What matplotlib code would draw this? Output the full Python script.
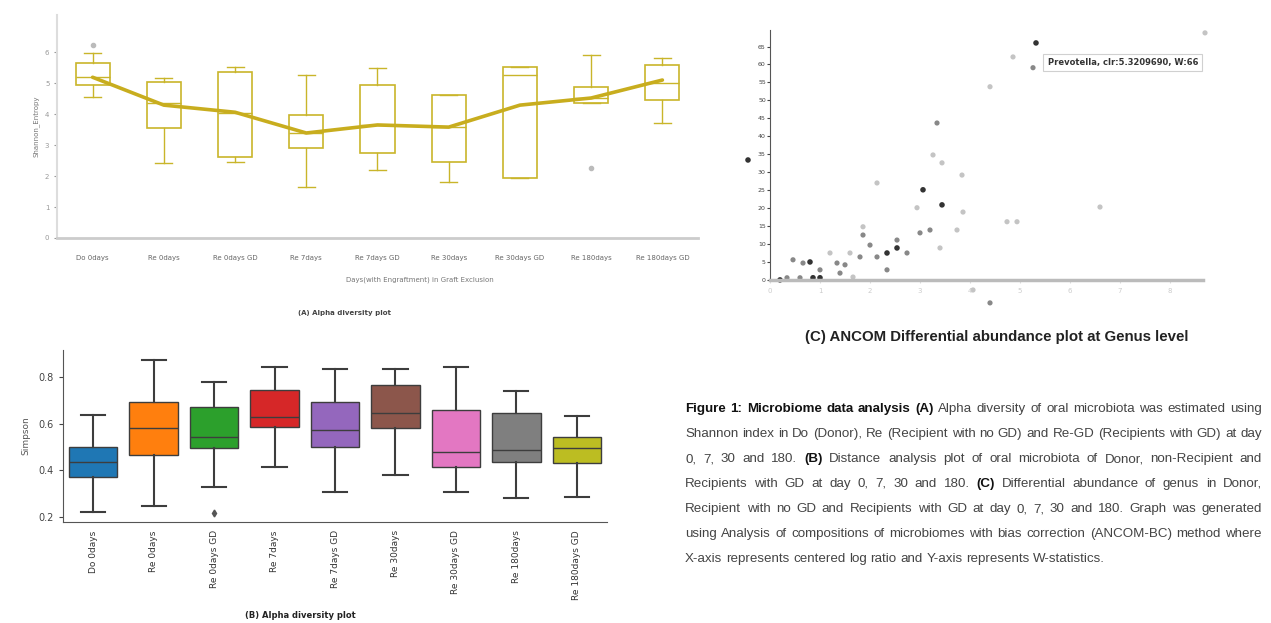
import numpy as np
import matplotlib
matplotlib.use('Agg')
import matplotlib.pyplot as plt

# (A) Shannon entropy per group
a_groups = ['Do 0days', 'Re 0days', 'Re 0days GD', 'Re 7days', 'Re 7days GD',
            'Re 30days', 'Re 30days GD', 'Re 180days', 'Re 180days GD']
a_whislo = [4.55, 2.42, 2.45, 1.65, 2.19, 1.81, 1.94, 4.35, 3.71]
a_q1 = [4.94, 3.55, 2.61, 2.90, 2.74, 2.45, 1.94, 4.35, 4.45]
a_med = [5.19, 4.35, 4.03, 3.39, 3.65, 3.58, 5.26, 4.52, 5.00]
a_q3 = [5.65, 5.03, 5.35, 3.97, 4.94, 4.61, 5.52, 4.87, 5.58]
a_whishi = [5.97, 5.16, 5.52, 5.26, 5.48, 4.61, 5.52, 5.90, 5.81]
a_fliers = [[6.23], [], [], [], [], [], [], [2.26], []]
a_mean = [5.19, 4.29, 4.06, 3.39, 3.65, 3.58, 4.29, 4.52, 5.10]

# (B) Simpson per group
b_groups = ['Do 0days', 'Re 0days', 'Re 0days GD', 'Re 7days', 'Re 7days GD',
            'Re 30days', 'Re 30days GD', 'Re 180days', 'Re 180days GD']
b_whislo = [0.221, 0.247, 0.329, 0.415, 0.307, 0.380, 0.307, 0.282, 0.286]
b_q1 = [0.372, 0.466, 0.496, 0.586, 0.500, 0.582, 0.415, 0.436, 0.432]
b_med = [0.436, 0.582, 0.543, 0.629, 0.573, 0.646, 0.479, 0.488, 0.496]
b_q3 = [0.500, 0.694, 0.672, 0.745, 0.694, 0.767, 0.659, 0.646, 0.543]
b_whishi = [0.638, 0.874, 0.779, 0.844, 0.835, 0.835, 0.844, 0.741, 0.633]
b_fliers = [[], [], [0.217], [], [], [], [], [], []]
b_colors = ['#1f77b4', '#ff7f0e', '#2ca02c', '#d62728', '#9467bd',
            '#8c564b', '#e377c2', '#7f7f7f', '#bcbd22']

# (C) ANCOM: clr vs W
c_dark_clr = [-0.44, 3.06, 3.44, 2.54, 2.34, 0.80, 1.00, 0.86, 0.20, 5.32]
c_dark_w = [33.4, 25.1, 20.9, 8.9, 7.5, 5.0, 0.6, 0.6, 0.0, 66.0]
c_mid_clr = [3.34, 3.00, 3.20, 2.74, 2.14, 1.80, 1.34, 0.66, 0.46, 1.00, 1.40,
             0.60, 0.34, 2.34, 2.54, 4.40, 5.26, 1.86, 2.00, 1.50]
c_mid_w = [43.7, 13.1, 13.9, 7.5, 6.4, 6.4, 4.7, 4.7, 5.6, 2.8, 1.9,
           0.6, 0.6, 2.8, 11.1, -6.4, 59.1, 12.5, 9.7, 4.2]
c_light_clr = [3.26, 3.44, 3.84, 2.14, 2.94, 3.86, 4.74, 4.94, 1.86, 4.40,
               4.86, 8.70, 6.60, 1.60, 1.20, 1.66, 3.74, 3.40, 4.06]
c_light_w = [34.8, 32.6, 29.2, 27.0, 20.1, 18.9, 16.2, 16.2, 14.8, 53.8,
             62.1, 68.8, 20.3, 7.5, 7.5, 0.8, 13.9, 8.9, -2.8]
c_top_label = 'Prevotella, clr:5.3209690, W:66'

caption_segments = [
    ('Figure 1: Microbiome data analysis (A)', 'bold'),
    ('Alpha diversity of oral microbiota was estimated using Shannon index in Do (Donor), '
     'Re (Recipient with no GD) and Re-GD (Recipients with GD) at day 0, 7, 30 and 180.', 'normal'),
    ('(B)', 'bold'),
    ('Distance analysis plot of oral microbiota of Donor, non-Recipient and Recipients with GD '
     'at day 0, 7, 30 and 180.', 'normal'),
    ('(C)', 'bold'),
    ('Differential abundance of genus in Donor, Recipient with no GD and Recipients with GD at '
     'day 0, 7, 30 and 180. Graph was generated using Analysis of compositions of microbiomes '
     'with bias correction (ANCOM-BC) method where X-axis represents centered log ratio and '
     'Y-axis represents W-statistics.', 'normal'),
]

W_PX, H_PX = 1271, 623
fig = plt.figure(figsize=(12.71, 6.23), dpi=100)
fig.patch.set_facecolor('white')


def px_axes(left, top, right, bottom):
    return fig.add_axes([left / W_PX, 1 - bottom / H_PX, (right - left) / W_PX, (bottom - top) / H_PX])


def fig_text(x, y, s, **kw):
    return fig.text(x / W_PX, 1 - y / H_PX, s, **kw)


# ---- (A) Alpha diversity, Shannon ----
axA = px_axes(57, 15, 698, 238)
statsA = []
for i in range(len(a_groups)):
    statsA.append(dict(whislo=a_whislo[i], q1=a_q1[i], med=a_med[i], q3=a_q3[i],
                       whishi=a_whishi[i], fliers=a_fliers[i]))
olive = '#c9b52a'
axA.bxp(statsA, positions=range(len(a_groups)), widths=0.48, patch_artist=True,
        boxprops=dict(facecolor='white', edgecolor=olive, linewidth=1.2),
        medianprops=dict(color=olive, linewidth=1.0),
        whiskerprops=dict(color=olive, linewidth=1.0),
        capprops=dict(color=olive, linewidth=1.0),
        flierprops=dict(marker='o', markersize=3, markerfacecolor='#bbbbbb',
                        markeredgecolor='#bbbbbb'))
axA.plot(range(len(a_groups)), a_mean, color='#c8ad1e', linewidth=2.6,
         solid_joinstyle='round', solid_capstyle='round', zorder=5)
axA.set_xlim(-0.5, 8.5)
axA.set_ylim(0, 7.2)
axA.set_yticks(range(0, 7))
axA.set_xticks(range(len(a_groups)))
axA.set_xticklabels(a_groups, fontsize=5, color='#666666')
axA.tick_params(axis='y', labelsize=5, colors='#999999', length=2)
axA.tick_params(axis='x', length=0, pad=12)
for s in ['top', 'right']:
    axA.spines[s].set_visible(False)
axA.spines['left'].set_color('#dddddd')
axA.spines['left'].set_linewidth(1.5)
axA.spines['bottom'].set_color('#cccccc')
axA.spines['bottom'].set_linewidth(2)
axA.set_ylabel('Shannon_Entropy', fontsize=5, color='#777777', labelpad=4)
fig_text(420, 280, 'Days(with Engraftment) in Graft Exclusion', fontsize=5,
         color='#777777', ha='center', va='center')
fig_text(345, 313, '(A) Alpha diversity plot', fontsize=5, fontweight='bold',
         color='#444444', ha='center', va='center')

# ---- (B) Alpha diversity, Simpson ----
axB = px_axes(63, 350, 607, 522)
statsB = []
for i in range(len(b_groups)):
    statsB.append(dict(whislo=b_whislo[i], q1=b_q1[i], med=b_med[i], q3=b_q3[i],
                       whishi=b_whishi[i], fliers=b_fliers[i]))
bp = axB.bxp(statsB, positions=range(len(b_groups)), widths=0.8, patch_artist=True,
             boxprops=dict(edgecolor='#3d3d3d', linewidth=1.0),
             medianprops=dict(color='#3d3d3d', linewidth=1.0),
             whiskerprops=dict(color='#3d3d3d', linewidth=1.5),
             capprops=dict(color='#3d3d3d', linewidth=1.5),
             flierprops=dict(marker='d', markersize=3.5, markerfacecolor='#555555',
                             markeredgecolor='#555555'))
for patch, c in zip(bp['boxes'], b_colors):
    patch.set_facecolor(c)
axB.set_xlim(-0.5, 8.5)
axB.set_ylim(0.2 - 5 / 233, 0.2 + 167 / 233)
axB.set_yticks([0.2, 0.4, 0.6, 0.8])
axB.set_yticklabels(['0.2', '0.4', '0.6', '0.8'])
axB.set_xticks(range(len(b_groups)))
axB.set_xticklabels(b_groups, rotation=90, fontsize=6.5, color='#333333')
axB.tick_params(axis='y', labelsize=7, colors='#444444', length=3)
axB.tick_params(axis='x', length=0, pad=6)
for s in ['top', 'right']:
    axB.spines[s].set_visible(False)
axB.spines['left'].set_color('#555555')
axB.spines['bottom'].set_color('#555555')
axB.set_ylabel('Simpson', fontsize=6.5, color='#555555', labelpad=6)
fig_text(300, 616, '(B) Alpha diversity plot', fontsize=6, fontweight='bold',
         color='#222222', ha='center', va='center')

# ---- (C) ANCOM differential abundance ----
axC = px_axes(740, 30, 1215, 309)
axC.scatter(c_light_clr, c_light_w, s=14, color='#c4c4c4', edgecolors='none')
axC.scatter(c_mid_clr, c_mid_w, s=14, color='#888888', edgecolors='none')
axC.scatter(c_dark_clr, c_dark_w, s=16, color='#333333', edgecolors='none')
axC.set_xlim(-0.6, 8.9)
axC.set_ylim(-8.1, 69.6)
for s in ['top', 'right']:
    axC.spines[s].set_visible(False)
axC.spines['left'].set_position(('data', 0))
axC.spines['bottom'].set_position(('data', 0))
axC.spines['left'].set_color('#555555')
axC.spines['left'].set_bounds(0, 69.6)
axC.spines['bottom'].set_color('#bbbbbb')
axC.spines['bottom'].set_linewidth(2.5)
axC.spines['bottom'].set_bounds(0, 8.65)
axC.set_yticks(range(0, 70, 5))
axC.set_xticks(range(0, 9))
axC.tick_params(axis='y', labelsize=4.5, colors='#444444', length=2, pad=1)
axC.tick_params(axis='x', labelsize=5, labelcolor='#cccccc', color='#dddddd', length=2)
axC.annotate(c_top_label, xy=(5.32, 66), xytext=(5.55, 60.5), fontsize=6,
             fontweight='bold', color='#333333', va='center', ha='left',
             bbox=dict(boxstyle='square,pad=0.5', fc='white', ec='#d0d0d0', lw=0.8))
fig_text(997, 337, '(C) ANCOM Differential abundance plot at Genus level',
         fontsize=10.8, fontweight='bold', color='#222222', ha='center', va='center',
         family=['Liberation Sans', 'DejaVu Sans'])

# ---- caption text, wrapped to the space on the right ----
renderer = fig.canvas.get_renderer()
cap_family = ['Liberation Sans', 'DejaVu Sans']
cap_size = 9.6
x0, x_max, y0, dy = 685, 1262, 412, 25


def word_width(w, wt):
    t = fig.text(0, 0, w, fontsize=cap_size, fontweight=wt, family=cap_family)
    wd = t.get_window_extent(renderer=renderer).width
    t.remove()
    return wd


words = []
for txt, wt in caption_segments:
    for w in txt.split():
        words.append((w, wt))
space = word_width('a a', 'normal') - word_width('aa', 'normal')

lines, cur, cur_w = [], [], 0
for w, wt in words:
    ww = word_width(w, wt)
    add = ww if not cur else ww + space
    if cur and cur_w + add > x_max - x0:
        lines.append(cur)
        cur, cur_w = [], 0
        add = ww
    cur.append((w, wt, ww))
    cur_w += add
if cur:
    lines.append(cur)

for li, line in enumerate(lines):
    y = y0 + li * dy
    last = li == len(lines) - 1
    total = sum(ww for _, _, ww in line)
    gap = space if last or len(line) < 2 else (x_max - x0 - total) / (len(line) - 1)
    x = x0
    for w, wt, ww in line:
        fig_text(x, y, w, fontsize=cap_size, fontweight=wt, family=cap_family,
                 color='#111111' if wt == 'bold' else '#444444', ha='left', va='baseline')
        x += ww + gap

fig.savefig('out.png', dpi=100, facecolor='white')
